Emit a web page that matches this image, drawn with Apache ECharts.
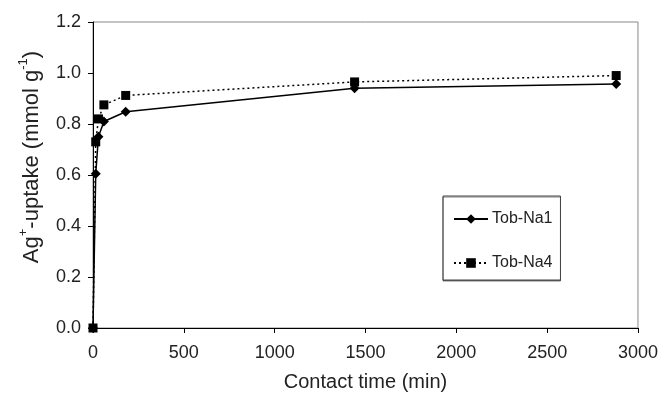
<!DOCTYPE html>
<html>
<head>
<meta charset="utf-8">
<script src="https://cdn.jsdelivr.net/npm/echarts@6/dist/echarts.min.js"></script>
<style>
html,body{margin:0;padding:0;background:#fff;}
#chart{width:661px;height:397px;}
</style>
</head>
<body>
<div id="chart"></div>
<script>
// Data
var timesNa1 = [0, 15, 30, 60, 180, 1440, 2880];
var uptakeNa1 = [0, 0.605, 0.75, 0.81, 0.848, 0.94, 0.957];
var timesNa4 = [0, 15, 30, 60, 180, 1440, 2880];
var uptakeNa4 = [0, 0.73, 0.82, 0.875, 0.912, 0.965, 0.99];
var seriesNames = ['Tob-Na1', 'Tob-Na4'];
var xTicks = [0, 500, 1000, 1500, 2000, 2500, 3000];
var yTicks = [0.0, 0.2, 0.4, 0.6, 0.8, 1.0, 1.2];

function pairs(xs, ys) { return xs.map(function (x, i) { return [x, ys[i]]; }); }

var FONT = '"Liberation Sans", Arial, sans-serif';
var TXT = '#222';

var chart = echarts.init(document.getElementById('chart'), null, { renderer: 'canvas' });
chart.setOption({
  animation: false,
  backgroundColor: '#fff',
  textStyle: { fontFamily: FONT, color: TXT },
  grid: {
    left: 93, right: 20, top: 22, bottom: 67,
    show: true, borderColor: '#888', borderWidth: 1, backgroundColor: 'transparent'
  },
  legend: {
    data: seriesNames,
    orient: 'vertical',
    left: 443, top: 196,
    itemWidth: 34, itemHeight: 12, itemGap: 28,
    padding: [15, 8, 9, 10],
    backgroundColor: '#fff',
    borderColor: '#444', borderWidth: 1,
    shadowColor: 'rgba(0,0,0,0.5)', shadowOffsetX: 0, shadowOffsetY: 1, shadowBlur: 0,
    textStyle: { fontFamily: FONT, fontSize: 16, color: TXT, padding: [0, 0, 0, -1] }
  },
  xAxis: {
    type: 'value',
    min: xTicks[0], max: xTicks[xTicks.length - 1], interval: 500,
    name: 'Contact time (min)',
    nameLocation: 'middle', nameGap: 44,
    nameTextStyle: { fontFamily: FONT, fontSize: 20, color: TXT },
    axisLine: { show: true, onZero: false, lineStyle: { color: '#000', width: 1 } },
    axisTick: { show: true, inside: false, length: 5, lineStyle: { color: '#000' } },
    axisLabel: {
      fontFamily: FONT, fontSize: 18, color: TXT, margin: 16,
      formatter: function (v) { return String(v); }
    },
    splitLine: { show: false }
  },
  yAxis: {
    type: 'value',
    min: yTicks[0], max: yTicks[yTicks.length - 1], interval: 0.2,
    name: '{n|Ag}{s|+}{n|-uptake (mmol g}{s|-1}{n|)}',
    nameLocation: 'middle', nameGap: 50,
    nameTextStyle: {
      fontFamily: FONT, fontSize: 22, color: TXT,
      padding: [0, 0, 0, 36],
      rich: {
        n: { fontFamily: FONT, fontSize: 22, color: TXT, lineHeight: 26, verticalAlign: 'bottom' },
        s: { fontFamily: FONT, fontSize: 13, color: TXT, lineHeight: 26, verticalAlign: 'top' }
      }
    },
    axisLine: { show: true, onZero: false, lineStyle: { color: '#000', width: 1 } },
    axisTick: { show: true, inside: false, length: 5, lineStyle: { color: '#000' } },
    axisLabel: {
      fontFamily: FONT, fontSize: 18, color: TXT, margin: 12,
      formatter: function (v) { return v.toFixed(1); }
    },
    splitLine: { show: false }
  },
  series: [
    {
      name: seriesNames[0],
      type: 'line',
      data: pairs(timesNa1, uptakeNa1),
      symbol: 'diamond', symbolSize: 10,
      itemStyle: { color: '#000' },
      lineStyle: { color: '#000', width: 1.5, type: 'solid' },
      z: 3
    },
    {
      name: seriesNames[1],
      type: 'line',
      data: pairs(timesNa4, uptakeNa4),
      symbol: 'rect', symbolSize: 9,
      itemStyle: { color: '#000' },
      lineStyle: { color: '#000', width: 1.5, type: [2, 3] },
      z: 4
    }
  ]
});
</script>
</body>
</html>
